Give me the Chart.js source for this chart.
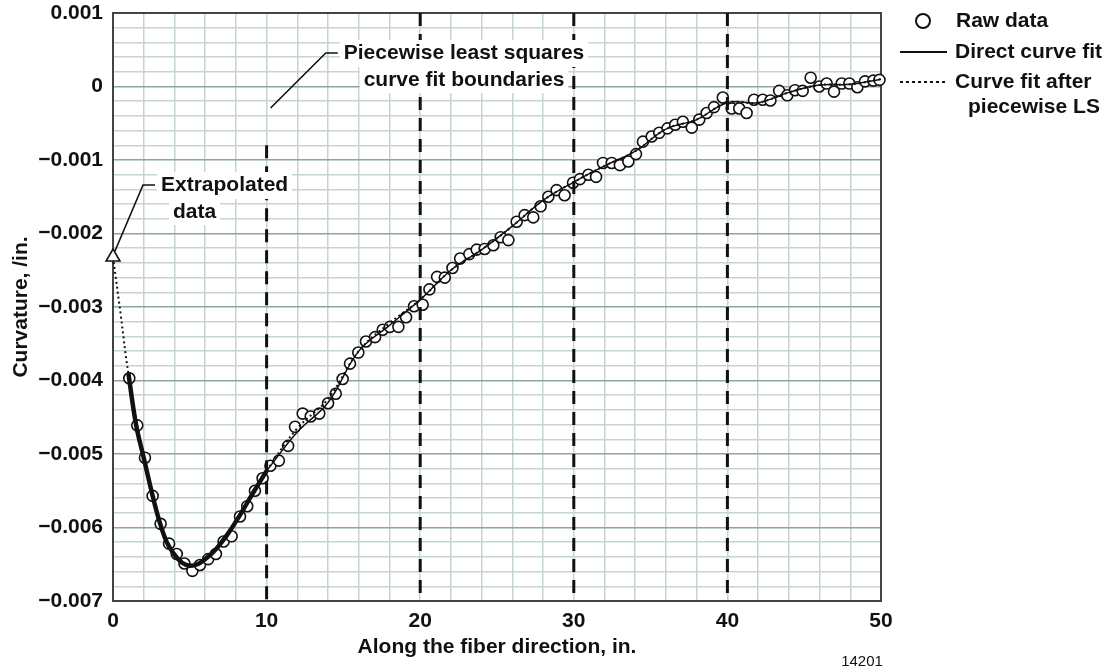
<!DOCTYPE html>
<html>
<head>
<meta charset="utf-8">
<script src="https://cdn.jsdelivr.net/npm/chart.js@4.4.1/dist/chart.umd.min.js"></script>
<style>
  html, body { margin: 0; padding: 0; background: #fff; }
  #wrap { width: 1112px; height: 672px; }
</style>
</head>
<body>
<div id="wrap"><canvas id="c" width="1112" height="672"></canvas></div>
<script>
// raw measurements, position along fiber (in.) and curvature (/in.)
const rawX = [1.06, 1.58, 2.08, 2.58, 3.1, 3.65, 4.15, 4.65, 5.17, 5.66, 6.2, 6.7, 7.2, 7.72, 8.27, 8.74, 9.24, 9.74,
  10.25, 10.8, 11.4, 11.85, 12.35, 12.87, 13.43, 14.0, 14.5, 14.95, 15.43, 15.97, 16.47, 17.06, 17.56, 18.03, 18.58, 19.08, 19.6,
  20.16, 20.6, 21.1, 21.6, 22.1, 22.6, 23.2, 23.68, 24.2, 24.76, 25.24, 25.74, 26.28, 26.8, 27.36, 27.84, 28.34, 28.88, 29.4, 29.95,
  30.4, 30.95, 31.45, 31.9, 32.47, 33.0, 33.55, 34.05, 34.5, 35.07, 35.56, 36.1, 36.6, 37.1, 37.68, 38.17, 38.65, 39.13, 39.7,
  40.28, 40.77, 41.25, 41.73, 42.3, 42.8, 43.37, 43.9, 44.4, 44.9, 45.42, 45.98, 46.46, 46.94, 47.44, 47.94, 48.46, 48.96, 49.5, 49.9];
const rawY = [-0.00397, -0.00461, -0.00505, -0.00557, -0.00595, -0.00622, -0.00636, -0.00649, -0.00659, -0.00651, -0.00643, -0.00636, -0.00619, -0.00612, -0.00585, -0.00571, -0.0055, -0.00533,
  -0.00516, -0.00509, -0.00489, -0.00463, -0.00445, -0.00449, -0.00445, -0.00431, -0.00418, -0.00398, -0.00377, -0.00362, -0.00347, -0.00341, -0.00331, -0.00327, -0.00327, -0.00314, -0.00299,
  -0.00297, -0.00276, -0.00259, -0.0026, -0.00247, -0.00234, -0.00228, -0.00222, -0.00221, -0.00216, -0.00205, -0.00209, -0.00184, -0.00175, -0.00178, -0.00163, -0.0015, -0.00141, -0.00148, -0.00131,
  -0.00126, -0.0012, -0.00123, -0.00104, -0.00104, -0.00107, -0.00102, -0.00092, -0.00075, -0.00068, -0.00063, -0.00057, -0.00052, -0.00048, -0.00056, -0.00045, -0.00036, -0.00028, -0.00015,
  -0.0003, -0.0003, -0.00036, -0.00018, -0.00018, -0.00019, -0.00006, -0.00012, -0.00005, -0.00006, 0.00012, 0.0, 0.00004, -0.00007, 0.00004, 0.00004, -0.00001, 0.00007, 0.00008, 0.00009];

// direct curve fit, first segment (heavy line) and the rest
const fitAX = [1, 1.5, 2, 2.5, 3, 3.5, 4, 4.5, 5, 5.5, 6, 6.5, 7, 7.5, 8, 8.5, 9, 9.5, 10];
const fitAY = [-0.0039, -0.0046, -0.00505, -0.0055, -0.0059, -0.0062, -0.00637, -0.00648, -0.00652, -0.0065, -0.00643, -0.00634, -0.00622, -0.00608, -0.00592, -0.00575, -0.00557, -0.0054, -0.00523];
const fitBX = [10, 12, 14, 16, 18, 20, 22, 24, 26, 28, 30, 32, 34, 36, 38, 40, 42, 44, 46, 48, 50];
const fitBY = [-0.00523, -0.0047, -0.0043, -0.0036, -0.00325, -0.0029, -0.0025, -0.00222, -0.0019, -0.00155, -0.0013, -0.00108, -0.00088, -0.00058, -0.00045, -0.00022, -0.00022, -0.00008, 0.00002, 0.00003, 0.0001];

// curve fit after piecewise least squares (dotted)
const lsX = [0, 0.5, 1, 2, 3, 4, 5, 6, 7, 8, 9, 10, 12, 14, 16, 18, 20, 22, 24, 26, 28, 30, 32, 34, 36, 38, 40, 42, 44, 46, 48, 50];
const lsY = [-0.00232, -0.0031, -0.0039, -0.00505, -0.0059, -0.00637, -0.00652, -0.00643, -0.00622, -0.00592, -0.00557, -0.00523, -0.00465, -0.00425, -0.0036, -0.00322, -0.0029, -0.0025, -0.00222, -0.0019, -0.00155, -0.0013, -0.00108, -0.00088, -0.00058, -0.00045, -0.00022, -0.00022, -0.00008, 0.00002, 0.00003, 0.0001];

const extrapX = [0];
const extrapY = [-0.00232];

const boundaries = [10, 20, 30, 40];
const boundaryTop = [-0.0008, 0.001, 0.001, 0.001];

const xTicks = [0, 10, 20, 30, 40, 50];
const yTicks = [0.001, 0, -0.001, -0.002, -0.003, -0.004, -0.005, -0.006, -0.007];

const FONT = '"Liberation Sans", Arial, Helvetica, sans-serif';
const pts = (xs, ys) => xs.map((x, i) => ({ x: x, y: ys[i] }));

const datasets = [
  {
    label: 'Raw data', data: pts(rawX, rawY), showLine: false,
    pointRadius: 5.5, pointBorderWidth: 1.6, pointBorderColor: '#111', pointBackgroundColor: '#fff',
    order: 5, clip: false
  },
  {
    label: 'Direct curve fit', data: pts(fitAX, fitAY), showLine: true, pointRadius: 0,
    borderColor: '#111', borderWidth: 4.5, tension: 0.4, order: 3
  },
  {
    label: 'Direct curve fit (cont.)', data: pts(fitBX, fitBY), showLine: true, pointRadius: 0,
    borderColor: '#111', borderWidth: 1.5, tension: 0.4, order: 3
  },
  {
    label: 'Curve fit after piecewise LS', data: pts(lsX, lsY), showLine: true, pointRadius: 0,
    borderColor: '#111', borderWidth: 2, borderDash: [2, 3], tension: 0.4, order: 2, clip: false
  },
  {
    label: 'Extrapolated', data: pts(extrapX, extrapY), showLine: false,
    pointStyle: 'triangle', pointRadius: 8, pointBorderWidth: 1.6, pointBorderColor: '#111',
    pointBackgroundColor: '#fff', order: 1, clip: false
  }
];

boundaries.forEach((b, i) => {
  datasets.push({
    label: 'boundary ' + b, data: [{ x: b, y: boundaryTop[i] }, { x: b, y: -0.007 }],
    showLine: true, pointRadius: 0, borderColor: '#111', borderWidth: 3, borderDash: [13, 8], order: 4
  });
});

const isMajorY = v => Math.abs(Math.round(v * 10000)) % 10 === 0;
const fmtY = v => {
  const r = Math.round(v * 1000) / 1000;
  if (r === 0) return '0';
  return (r < 0 ? '\u2212' : '') + Math.abs(r).toFixed(3);
};

const decorations = {
  id: 'decorations',
  beforeDatasetsDraw(chart) {
    const { ctx, chartArea: a } = chart;
    ctx.save();
    ctx.strokeStyle = '#444';
    ctx.lineWidth = 2;
    ctx.strokeRect(a.left, a.top, a.right - a.left, a.bottom - a.top);
    ctx.restore();
  },
  afterDatasetsDraw(chart) {
    const { ctx } = chart;
    const xs = chart.scales.x, ys = chart.scales.y;
    ctx.save();
    ctx.font = 'bold 21px ' + FONT;
    ctx.textBaseline = 'middle';
    ctx.fillStyle = '#111';
    ctx.strokeStyle = '#111';
    ctx.lineWidth = 1.6;

    // boundary label
    const bx = 464;
    ctx.textAlign = 'center';
    const l1 = 'Piecewise least squares', l2 = 'curve fit boundaries';
    const w1 = ctx.measureText(l1).width, w2 = ctx.measureText(l2).width;
    ctx.fillStyle = '#fff';
    ctx.fillRect(bx - w1 / 2 - 4, 40, w1 + 8, 27);
    ctx.fillRect(bx - w2 / 2 - 4, 67, w2 + 8, 26);
    ctx.fillStyle = '#111';
    ctx.fillText(l1, bx, 53);
    ctx.fillText(l2, bx, 80);
    const lx = xs.getPixelForValue(10) + 4;
    ctx.beginPath();
    ctx.moveTo(lx, 108);
    ctx.lineTo(bx - w1 / 2 - 18, 53);
    ctx.lineTo(bx - w1 / 2 - 6, 53);
    ctx.stroke();

    // extrapolated label
    const tx = xs.getPixelForValue(extrapX[0]), ty = ys.getPixelForValue(extrapY[0]);
    ctx.textAlign = 'left';
    const e1 = 'Extrapolated', e2 = 'data';
    const ew = ctx.measureText(e1).width;
    ctx.fillStyle = '#fff';
    ctx.fillRect(157, 172, ew + 8, 27);
    ctx.fillRect(169, 199, ctx.measureText(e2).width + 8, 26);
    ctx.fillStyle = '#111';
    ctx.fillText(e1, 161, 185);
    ctx.fillText(e2, 173, 212);
    ctx.beginPath();
    ctx.moveTo(tx + 2, ty - 6);
    ctx.lineTo(143, 185);
    ctx.lineTo(155, 185);
    ctx.stroke();

    // legend
    ctx.textAlign = 'left';
    ctx.beginPath();
    ctx.arc(923, 21, 7, 0, Math.PI * 2);
    ctx.fillStyle = '#fff';
    ctx.fill();
    ctx.lineWidth = 2;
    ctx.stroke();
    ctx.fillStyle = '#111';
    ctx.fillText('Raw data', 956, 21);
    ctx.beginPath();
    ctx.moveTo(900, 52); ctx.lineTo(947, 52);
    ctx.stroke();
    ctx.fillText('Direct curve fit', 955, 52);
    ctx.setLineDash([3, 3]);
    ctx.beginPath();
    ctx.moveTo(900, 82); ctx.lineTo(947, 82);
    ctx.stroke();
    ctx.setLineDash([]);
    ctx.fillText('Curve fit after', 955, 82);
    ctx.fillText('piecewise LS', 968, 107);

    // figure number
    ctx.font = '15px ' + FONT;
    ctx.textAlign = 'center';
    ctx.fillText('14201', 862, 662);
    ctx.restore();
  }
};

new Chart(document.getElementById('c'), {
  type: 'scatter',
  data: { datasets: datasets },
  options: {
    responsive: false,
    animation: false,
    layout: { padding: { top: 13, right: 231, left: 0, bottom: 0 } },
    plugins: { legend: { display: false }, tooltip: { enabled: false } },
    scales: {
      x: {
        type: 'linear', min: 0, max: 50,
        afterFit: s => { s.height = 71; s.paddingLeft = 0; s.paddingRight = 0; },
        afterBuildTicks: s => {
          const t = [];
          for (let v = 0; v <= 50; v += 2) t.push({ value: v });
          s.ticks = t;
        },
        border: { display: false },
        grid: { color: '#c6d4d4', lineWidth: 1.5, drawTicks: false },
        ticks: {
          autoSkip: false, maxRotation: 0, padding: 8, color: '#111',
          font: { family: FONT, size: 21, weight: 'bold' },
          callback: v => (xTicks.includes(v) ? String(v) : '')
        },
        title: {
          display: true, text: 'Along the fiber direction, in.', color: '#111',
          font: { family: FONT, size: 21, weight: 'bold' }, padding: { top: 0, bottom: 12 }
        }
      },
      y: {
        type: 'linear', min: -0.007, max: 0.001,
        afterFit: s => { s.width = 113; s.paddingTop = 0; s.paddingBottom = 0; },
        afterBuildTicks: s => {
          const t = [];
          for (let k = -35; k <= 5; k++) t.push({ value: k / 5000 });
          s.ticks = t;
        },
        border: { display: false },
        grid: {
          drawTicks: false, lineWidth: 1.5,
          color: c => (c.tick && isMajorY(c.tick.value) ? '#8ea3a3' : '#c6d4d4')
        },
        ticks: {
          autoSkip: false, padding: 10, color: '#111',
          font: { family: FONT, size: 21, weight: 'bold' },
          callback: v => (isMajorY(v) && yTicks.some(t => Math.abs(t - v) < 1e-9) ? fmtY(v) : '')
        },
        title: {
          display: true, text: 'Curvature, /in.', color: '#111',
          font: { family: FONT, size: 21, weight: 'bold' }, padding: { top: 9, bottom: 0 }
        }
      }
    }
  },
  plugins: [decorations]
});
</script>
</body>
</html>
